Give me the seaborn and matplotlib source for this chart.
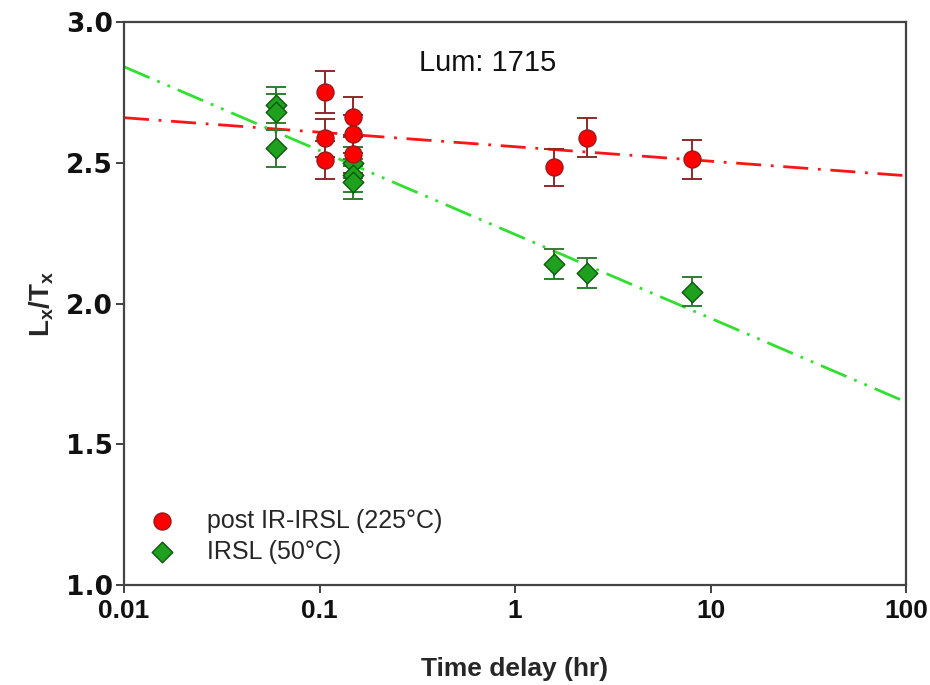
import numpy as np
import pandas as pd
import matplotlib
matplotlib.use("Agg")
import matplotlib.pyplot as plt
import seaborn as sns

# ---- data ----
red_x = [0.107, 0.107, 0.107, 0.148, 0.148, 0.148, 1.59, 2.33, 8.07]
red_y = [2.752, 2.588, 2.510, 2.664, 2.602, 2.530, 2.484, 2.589, 2.513]
red_err = [0.075, 0.068, 0.068, 0.071, 0.068, 0.068, 0.066, 0.069, 0.069]

green_x = [0.06, 0.06, 0.06, 0.148, 0.148, 0.148, 1.59, 2.33, 8.07]
green_y = [2.705, 2.681, 2.551, 2.500, 2.455, 2.430, 2.140, 2.109, 2.042]
green_err = [0.063, 0.063, 0.065, 0.055, 0.058, 0.058, 0.054, 0.053, 0.052]

fit_x = [0.01, 100]
red_fit_y = [2.660, 2.454]
green_fit_y = [2.841, 1.650]

x_ticks = [0.01, 0.1, 1, 10, 100]
x_tick_labels = ["0.01", "0.1", "1", "10", "100"]
y_ticks = [1.0, 1.5, 2.0, 2.5, 3.0]
y_tick_labels = ["1.0", "1.5", "2.0", "2.5", "3.0"]

red_label = "post IR-IRSL (225°C)"
green_label = "IRSL (50°C)"
title_text = "Lum: 1715"
x_label = "Time delay (hr)"
y_label = r"$\mathbf{L_x/T_x}$"

# ---- style ----
sns.set_theme(style="ticks")
plt.rcParams["font.family"] = ["Liberation Sans", "DejaVu Sans"]
plt.rcParams["mathtext.fontset"] = "custom"
plt.rcParams["mathtext.rm"] = "Liberation Sans"
plt.rcParams["mathtext.bf"] = "Liberation Sans:bold"
plt.rcParams["mathtext.it"] = "Liberation Sans:italic"

fig = plt.figure(figsize=(9.3, 6.85), dpi=100)
ax = fig.add_axes([124 / 930, 1 - 585 / 685, 782 / 930, 563 / 685])

red_df = pd.DataFrame({"x": red_x, "y": red_y})
green_df = pd.DataFrame({"x": green_x, "y": green_y})
red_fit = pd.DataFrame({"x": fit_x, "y": red_fit_y})
green_fit = pd.DataFrame({"x": fit_x, "y": green_fit_y})

# fit lines
sns.lineplot(data=red_fit, x="x", y="y", ax=ax, color="#ff1414", lw=2.0,
             linestyle=(0, (9, 3.5, 1, 3.5)), zorder=1)
sns.lineplot(data=green_fit, x="x", y="y", ax=ax, color="#2fe02f", lw=2.0,
             linestyle=(0, (10, 3, 1, 3, 1, 3)), zorder=1)

# error bars
ax.errorbar(green_x, green_y, yerr=green_err, fmt="none", ecolor="#2f7d2f",
            elinewidth=1.4, capsize=7.5, capthick=1.4, zorder=2)
ax.errorbar(red_x, red_y, yerr=red_err, fmt="none", ecolor="#8c2a2a",
            elinewidth=1.4, capsize=7.5, capthick=1.4, zorder=2)

# points
sns.scatterplot(data=green_df, x="x", y="y", ax=ax, marker="D", s=110,
                color="#1fa01f", edgecolor="#0b5a0b", linewidth=1.0,
                label=green_label, zorder=3)
sns.scatterplot(data=red_df, x="x", y="y", ax=ax, marker="o", s=150,
                color="#ff0000", edgecolor="#9a1a1a", linewidth=1.0,
                label=red_label, zorder=4)

ax.set_xscale("log")
ax.set_xlim(0.01, 100)
ax.set_ylim(1.0, 3.0)
ax.set_xticks(x_ticks)
ax.set_xticklabels(x_tick_labels)
ax.set_yticks(y_ticks)
ax.set_yticklabels(y_tick_labels)
ax.xaxis.set_minor_locator(matplotlib.ticker.NullLocator())
ax.yaxis.set_minor_locator(matplotlib.ticker.NullLocator())

for lab in ax.get_xticklabels():
    lab.set_fontweight("bold")
    lab.set_fontsize(19)
    lab.set_color("#111111")
for lab in ax.get_yticklabels():
    lab.set_fontfamily(["DejaVu Sans"])
    lab.set_fontweight("bold")
    lab.set_fontsize(19)
    lab.set_color("#111111")
ax.tick_params(axis="both", direction="out", length=6, width=1.3,
               color="#333333")
ax.tick_params(axis="x", pad=4)
ax.tick_params(axis="y", pad=2)
for sp in ax.spines.values():
    sp.set_visible(True)
    sp.set_color("#444444")
    sp.set_linewidth(1.6)

ax.set_xlabel(x_label, fontsize=19, fontweight="bold")
ax.xaxis.set_label_coords(0.5, -0.128)
ax.set_ylabel(y_label, fontsize=20)
ax.yaxis.set_label_coords(-0.087, 0.5)

ax.text(0.4655, 0.927, title_text, transform=ax.transAxes, fontsize=21,
        ha="center", va="center", color="#111111")

handles, labels = ax.get_legend_handles_labels()
order = [labels.index(red_label), labels.index(green_label)]
ax.legend([handles[i] for i in order], [labels[i] for i in order],
          loc="upper left", bbox_to_anchor=(0.004, 0.153), borderaxespad=0,
          frameon=False, fontsize=18, labelspacing=0.27, handletextpad=0.8,
          handlelength=2.0)

fig.savefig("out.png", dpi=100)
